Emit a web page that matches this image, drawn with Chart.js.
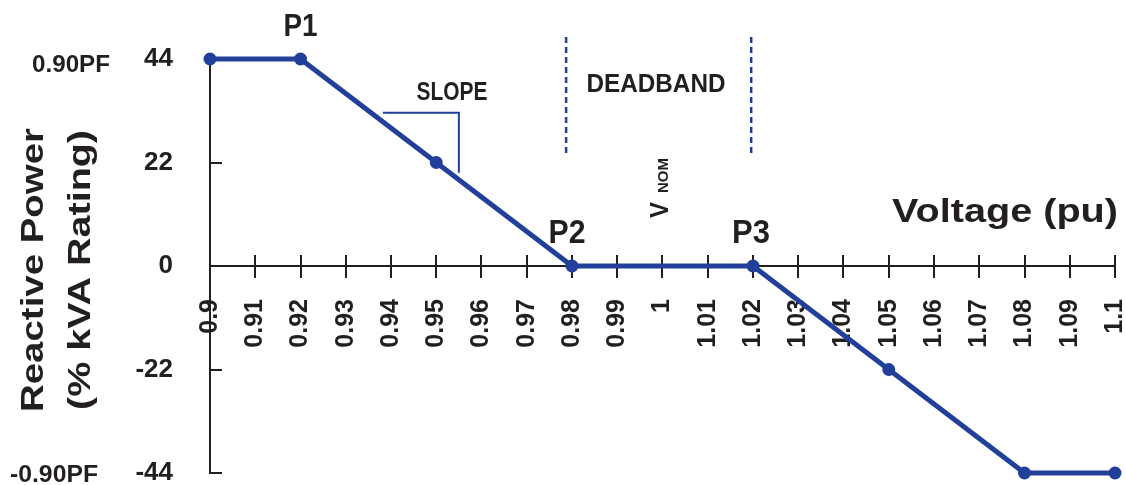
<!DOCTYPE html>
<html>
<head>
<meta charset="utf-8">
<title>Volt-VAr curve</title>
<script src="https://cdn.jsdelivr.net/npm/chart.js@4.4.1/dist/chart.umd.min.js"></script>
<style>
  html, body { margin: 0; padding: 0; background: #fff; }
  canvas { display: block; }
</style>
</head>
<body>
<canvas id="voltVar" width="1126" height="485"></canvas>
<script>
// curve points (pu voltage -> % kVA reactive power)
const voltage = [0.9, 0.92, 0.95, 0.98, 1.02, 1.05, 1.08, 1.1];
const reactive = [44, 44, 22, 0, 0, -22, -44, -44];

// slope bracket + deadband markers
const slopeX = [0.9382, 0.955, 0.955];
const slopeY = [32.6, 32.6, 19.8];
const deadbandLow = [0.9787, 0.9787];
const deadbandHigh = [1.0196, 1.0196];
const deadbandY = [48.7, 23.7];

// ticks
const xTicks = [0.9, 0.91, 0.92, 0.93, 0.94, 0.95, 0.96, 0.97, 0.98, 0.99, 1, 1.01, 1.02, 1.03, 1.04, 1.05, 1.06, 1.07, 1.08, 1.09, 1.1];
const xTickLabels = ['0.9', '0.91', '0.92', '0.93', '0.94', '0.95', '0.96', '0.97', '0.98', '0.99', '1', '1.01', '1.02', '1.03', '1.04', '1.05', '1.06', '1.07', '1.08', '1.09', '1.1'];
const yTicks = [44, 22, 0, -22, -44];
const yTickLabels = ['44', '22', '0', '-22', '-44'];

const BLUE = '#22409a';
const INK = '#231f20';
const FONT = '"Liberation Sans", Arial, sans-serif';

const pts = (xs, ys) => xs.map((x, i) => ({ x: x, y: ys[i] }));

// text drawn bold, squeezed to a given width
function txt(ctx, s, x, y, size, width, rot, align) {
  ctx.save();
  ctx.font = 'bold ' + size + 'px ' + FONT;
  const w = ctx.measureText(s).width;
  ctx.translate(x, y);
  if (rot) ctx.rotate(-Math.PI / 2);
  ctx.scale(width / w, 1);
  ctx.fillStyle = INK;
  ctx.textAlign = align || 'center';
  ctx.textBaseline = 'alphabetic';
  ctx.fillText(s, 0, 0);
  ctx.restore();
}

const axisMarks = {
  id: 'axisMarks',
  beforeDatasetsDraw(chart) {
    const { ctx, scales: { x, y } } = chart;
    const y0 = y.getPixelForValue(0);
    ctx.save();
    ctx.strokeStyle = INK;
    ctx.lineWidth = 2;
    ctx.beginPath();
    xTicks.forEach(v => {
      if (v === xTicks[0]) return;
      const px = Math.round(x.getPixelForValue(v));
      ctx.moveTo(px, y0 - 11);
      ctx.lineTo(px, y0 + 12);
    });
    yTicks.forEach(v => {
      if (v === 0) return;
      const py = Math.round(y.getPixelForValue(v));
      ctx.moveTo(x.left, py);
      ctx.lineTo(x.left + 12, py);
    });
    ctx.stroke();
    ctx.restore();
  },
  afterDraw(chart) {
    const { ctx, scales: { x, y } } = chart;
    const px = v => x.getPixelForValue(v);
    const py = v => y.getPixelForValue(v);

    txt(ctx, 'P1', px(0.92), 36, 32, 34);
    txt(ctx, 'P2', px(0.98) - 5, py(0) - 23, 33, 37);
    txt(ctx, 'P3', px(1.02) - 2, py(0) - 23, 33, 38);
    txt(ctx, 'SLOPE', 452, 100, 25, 71);
    txt(ctx, 'DEADBAND', 656, 92, 26.5, 139);

    // V with NOM subscript, rotated
    txt(ctx, 'V', 668, 218, 25, 16, true, 'left');
    ctx.save();
    ctx.translate(668, 193);
    ctx.rotate(-Math.PI / 2);
    ctx.font = 'bold 14px ' + FONT;
    const w = ctx.measureText('NOM').width;
    ctx.scale(35 / w, 1);
    ctx.fillStyle = INK;
    ctx.textAlign = 'left';
    ctx.fillText('NOM', 0, 0);
    ctx.restore();

    txt(ctx, 'Voltage (pu)', 1005, 222, 33.5, 226);
    txt(ctx, '0.90PF', 71, 72, 24, 78);
    txt(ctx, '-0.90PF', 54, 482, 24, 88);

    txt(ctx, 'Reactive Power', 43, 270, 32, 284, true);
    txt(ctx, '(% kVA Rating)', 90, 270, 32, 280, true);
  }
};

// axes live inside the fixed frame, so their label padding must not move it
const noPad = s => {
  s.paddingLeft = 0;
  s.paddingRight = 0;
  s.paddingTop = 0;
  s.paddingBottom = 0;
};

new Chart(document.getElementById('voltVar').getContext('2d'), {
  type: 'line',
  data: {
    datasets: [
      {
        data: pts(voltage, reactive),
        borderColor: BLUE,
        backgroundColor: BLUE,
        borderWidth: 5,
        pointRadius: 6.5,
        pointBorderWidth: 0,
        pointBackgroundColor: BLUE,
        tension: 0,
        clip: false
      },
      {
        data: pts(slopeX, slopeY),
        borderColor: BLUE,
        borderWidth: 2,
        pointRadius: 0,
        clip: false
      },
      {
        data: pts(deadbandLow, deadbandY),
        borderColor: BLUE,
        borderWidth: 2.5,
        borderDash: [6, 4],
        pointRadius: 0,
        clip: false
      },
      {
        data: pts(deadbandHigh, deadbandY),
        borderColor: BLUE,
        borderWidth: 2.5,
        borderDash: [6, 4],
        pointRadius: 0,
        clip: false
      }
    ]
  },
  options: {
    responsive: false,
    animation: false,
    layout: {
      padding: { top: 59, right: 11, bottom: 12, left: 0 }
    },
    plugins: {
      legend: { display: false },
      tooltip: { enabled: false }
    },
    scales: {
      x: {
        type: 'linear',
        position: { y: 0 },
        min: 0.9,
        max: 1.1,
        afterBuildTicks: s => { s.ticks = xTicks.map(v => ({ value: v })); },
        afterFit: s => { s.height = 0; noPad(s); },
        grid: { display: false, drawTicks: false },
        border: { display: true, color: INK, width: 2 },
        ticks: {
          autoSkip: false,
          minRotation: 90,
          maxRotation: 90,
          padding: 33,
          color: INK,
          font: { family: FONT, weight: 'bold', size: 25 },
          callback: (v, i) => xTickLabels[i]
        }
      },
      y: {
        min: -44,
        max: 44,
        afterBuildTicks: s => { s.ticks = yTicks.map(v => ({ value: v })); },
        afterFit: s => { s.width = 210; noPad(s); },
        grid: { display: false, drawTicks: false },
        border: { display: true, color: INK, width: 2 },
        ticks: {
          padding: 37,
          color: INK,
          font: { family: FONT, weight: 'bold', size: 26 },
          callback: (v, i) => yTickLabels[i]
        }
      }
    }
  },
  plugins: [axisMarks]
});
</script>
</body>
</html>
